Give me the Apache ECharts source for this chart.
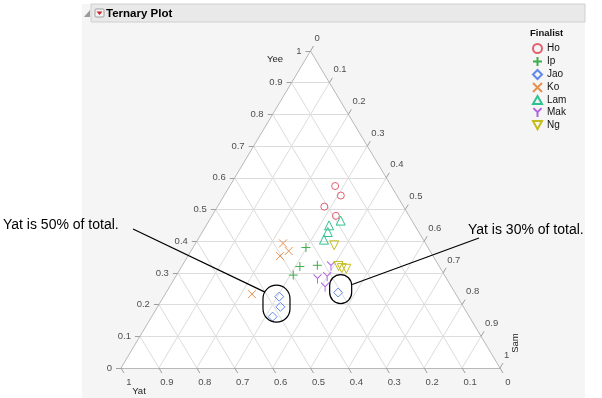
<!DOCTYPE html>
<html lang="en">
<head>
<meta charset="UTF-8">
<title>Ternary Plot</title>
<script src="https://cdn.jsdelivr.net/npm/echarts@6/dist/echarts.min.js"></script>
<style>
  html, body { margin: 0; padding: 0; background: #fff; }
  #main { width: 602px; height: 398px; }
</style>
</head>
<body>
<div id="main"></div>
<script>
// each point is [Yee, Yat, Sam]
var finalists = ['Ho', 'Ip', 'Jao', 'Ko', 'Lam', 'Mak', 'Ng'];
var ho  = [[0.574, 0.148, 0.278], [0.544, 0.148, 0.308], [0.509, 0.209, 0.282], [0.480, 0.193, 0.327]];
var ip  = [[0.380, 0.322, 0.298], [0.320, 0.368, 0.312], [0.324, 0.320, 0.356], [0.293, 0.399, 0.308]];
var jao = [[0.225, 0.470, 0.305], [0.193, 0.483, 0.324], [0.162, 0.519, 0.319], [0.238, 0.308, 0.454]];
var ko  = [[0.393, 0.376, 0.231], [0.369, 0.373, 0.258], [0.353, 0.404, 0.243], [0.233, 0.538, 0.229]];
var lam = [[0.450, 0.226, 0.324], [0.465, 0.188, 0.347], [0.429, 0.240, 0.331], [0.405, 0.262, 0.333]];
var mak = [[0.322, 0.285, 0.393], [0.281, 0.341, 0.378], [0.288, 0.312, 0.400], [0.255, 0.334, 0.411]];
var ng  = [[0.387, 0.244, 0.369], [0.322, 0.265, 0.413], [0.315, 0.260, 0.425], [0.313, 0.249, 0.438]];

var ticks = [0, 0.1, 0.2, 0.3, 0.4, 0.5, 0.6, 0.7, 0.8, 0.9, 1];
var tickLabels = ['0', '0.1', '0.2', '0.3', '0.4', '0.5', '0.6', '0.7', '0.8', '0.9', '1'];

var colors = ['#e2606f', '#3fae49', '#6088e8', '#e8914f', '#2fc191', '#b062e0', '#c4bc1c'];
var symbols = [
  'circle',
  'path://M5,0L5,10M0,5L10,5',
  'diamond',
  'path://M0,0L10,10M10,0L0,10',
  'path://M5,0L10,9L0,9Z',
  'path://M0,0L5,5L10,0M5,5L5,11',
  'path://M0,0L10,0L5,9Z'
];
var sizes = [7, 9, 9, 8, 9, [8, 9], 9];
var groups = [ho, ip, jao, ko, lam, mak, ng];

var FONT = 'Liberation Sans, Arial, sans-serif';
var GW = 379, GH = 317;   // grid size in px
var DX = 1 / GW, DY = 1 / GH;

// ternary -> cartesian (x along base, y = Yee)
function tern(p) {
  return [p[2] + p[0] / 2, p[0]];
}

var chart = echarts.init(document.getElementById('main'));

var gridLines = [];
for (var i = 1; i < ticks.length - 1; i++) {
  var t = ticks[i];
  gridLines.push({ coords: [[t / 2, t], [1 - t / 2, t]] });
  gridLines.push({ coords: [[1 - t, 0], [(1 - t) / 2, 1 - t]] });
  gridLines.push({ coords: [[t, 0], [(1 + t) / 2, 1 - t]] });
}
var edges = [
  { coords: [[0, 0], [1, 0]] },
  { coords: [[0, 0], [0.5, 1]] },
  { coords: [[1, 0], [0.5, 1]] }
];

var tickMarks = [];
var yeeLab = [], samLab = [], yatLab = [];
ticks.forEach(function (t, k) {
  // Yee on left edge
  tickMarks.push({ coords: [[t / 2, t], [t / 2 - 5 * DX, t]] });
  yeeLab.push({ name: tickLabels[k], value: [t / 2, t] });
  // Sam on right edge
  var sx = (1 + t) / 2, sy = 1 - t;
  tickMarks.push({ coords: [[sx, sy], [sx + 3 * DX, sy + 5 * DY]] });
  samLab.push({ name: tickLabels[k], value: [sx, sy] });
  // Yat on base
  tickMarks.push({ coords: [[1 - t, 0], [1 - t + 3 * DX, -5 * DY]] });
  yatLab.push({ name: tickLabels[k], value: [1 - t, 0] });
});

function labelSeries(data, align, offset) {
  return {
    type: 'scatter',
    data: data,
    symbolSize: 1,
    silent: true,
    clip: false,
    itemStyle: { color: 'rgba(0,0,0,0)' },
    label: {
      show: true,
      position: 'inside',
      formatter: '{b}',
      align: align,
      verticalAlign: 'middle',
      offset: offset,
      color: '#222',
      fontSize: 9.5,
      fontFamily: FONT
    },
    z: 4
  };
}

var series = [
  {
    type: 'custom',
    silent: true,
    data: [[0, 0]],
    renderItem: function (params, api) {
      return {
        type: 'polygon',
        shape: { points: [api.coord([0, 0]), api.coord([1, 0]), api.coord([0.5, 1])] },
        style: { fill: '#fff' }
      };
    },
    z: 1
  },
  {
    type: 'lines', coordinateSystem: 'cartesian2d', silent: true, clip: false,
    data: gridLines, lineStyle: { color: '#dcdcdc', width: 1, opacity: 1 }, z: 2
  },
  {
    type: 'lines', coordinateSystem: 'cartesian2d', silent: true, clip: false,
    data: edges, lineStyle: { color: '#b8b8b8', width: 1, opacity: 1 }, z: 3
  },
  {
    type: 'lines', coordinateSystem: 'cartesian2d', silent: true, clip: false,
    data: tickMarks, lineStyle: { color: '#a0a0a0', width: 1, opacity: 1 }, z: 3
  },
  labelSeries(yeeLab, 'right', [-9, 0]),
  labelSeries(samLab, 'left', [4, -13]),
  labelSeries(yatLab, 'center', [8, 14])
];

finalists.forEach(function (name, k) {
  series.push({
    name: name,
    type: 'scatter',
    data: groups[k].map(tern),
    symbol: symbols[k],
    symbolSize: sizes[k],
    clip: false,
    itemStyle: { color: 'rgba(0,0,0,0)', borderColor: colors[k], borderWidth: 1, opacity: 1 },
    z: 10
  });
});

chart.setOption({
  backgroundColor: '#fff',
  animation: false,
  grid: { left: 121, top: 51, width: GW, height: GH },
  xAxis: { type: 'value', min: 0, max: 1, show: false },
  yAxis: { type: 'value', min: 0, max: 1, show: false },
  legend: {
    orient: 'vertical',
    left: 527, top: 38,
    itemWidth: 9, itemHeight: 9, itemGap: 2,
    textStyle: { fontSize: 10, color: '#111', fontFamily: FONT },
    data: finalists
  },
  series: series
});

// annotation ellipses around the Jao points
function px(p) { return chart.convertToPixel({ gridIndex: 0 }, tern(p)); }
var leftPts = jao.slice(0, 3).map(px);
var xs = leftPts.map(function (p) { return p[0]; });
var ys = leftPts.map(function (p) { return p[1]; });
var lcx = (Math.min.apply(null, xs) + Math.max.apply(null, xs)) / 2;
var lcy = (Math.min.apply(null, ys) + Math.max.apply(null, ys)) / 2 - 3;
var rp = px(jao[3]);
var rcx = rp[0] + 2.5, rcy = rp[1] - 3.5;

var lw = 27, lh = 37, rw = 22, rh = 29;

chart.setOption({
  graphic: [
    // panel and header
    { type: 'rect', z: -10, shape: { x: 82, y: 4, width: 503, height: 394 }, style: { fill: '#f5f5f5' }, silent: true },
    { type: 'rect', z: -9, shape: { x: 91, y: 4, width: 494, height: 18 }, style: { fill: '#e9e9e9', stroke: '#cfcfcf', lineWidth: 1 }, silent: true },
    { type: 'polygon', shape: { points: [[90, 10], [90, 17], [84, 17]] }, style: { fill: '#9a9a9a' }, silent: true },
    { type: 'rect', shape: { x: 95, y: 9, width: 9, height: 8, r: 1 }, style: { fill: '#f4f4f4', stroke: '#a0a0a0' }, silent: true },
    { type: 'polygon', shape: { points: [[96.5, 11.5], [102.5, 11.5], [99.5, 15]] }, style: { fill: '#d0202a' }, silent: true },
    { type: 'text', x: 106, y: 13.5, style: { text: 'Ternary Plot', font: 'bold 11.5px ' + FONT, fill: '#000', textVerticalAlign: 'middle' }, silent: true },
    { type: 'text', x: 530, y: 33, style: { text: 'Finalist', font: 'bold 9.5px ' + FONT, fill: '#111', textVerticalAlign: 'middle' }, silent: true },
    // axis titles
    { type: 'text', x: 275, y: 59, style: { text: 'Yee', font: '9.5px ' + FONT, fill: '#222', textAlign: 'center', textVerticalAlign: 'middle' }, silent: true },
    { type: 'text', x: 139, y: 391.5, style: { text: 'Yat', font: '9.5px ' + FONT, fill: '#222', textAlign: 'center', textVerticalAlign: 'middle' }, silent: true },
    { type: 'text', x: 515, y: 343, rotation: Math.PI / 2, style: { text: 'Sam', font: '9.5px ' + FONT, fill: '#222', textAlign: 'center', textVerticalAlign: 'middle' }, silent: true },
    // annotations
    { type: 'text', x: 3, y: 225, style: { text: 'Yat is 50% of total.', font: '14px ' + FONT, fill: '#000', textVerticalAlign: 'middle' }, silent: true },
    { type: 'text', x: 468, y: 230, style: { text: 'Yat is 30% of total.', font: '14px ' + FONT, fill: '#000', textVerticalAlign: 'middle' }, silent: true },
    { type: 'line', z: 20, shape: { x1: 133, y1: 229, x2: lcx - lw / 2 + 2, y2: lcy - 11.5 }, style: { stroke: '#000', lineWidth: 1.2 }, silent: true },
    { type: 'line', z: 20, shape: { x1: 479, y1: 238, x2: rcx + rw / 2 + 0.5, y2: rcy - 4.5 }, style: { stroke: '#000', lineWidth: 1.2 }, silent: true },
    { type: 'rect', z: 20, shape: { x: lcx - lw / 2, y: lcy - lh / 2, width: lw, height: lh, r: lw / 2 }, style: { fill: 'none', stroke: '#000', lineWidth: 1.2 }, silent: true },
    { type: 'rect', z: 20, shape: { x: rcx - rw / 2, y: rcy - rh / 2, width: rw, height: rh, r: rw / 2 }, style: { fill: 'none', stroke: '#000', lineWidth: 1.2 }, silent: true }
  ]
});
</script>
</body>
</html>
